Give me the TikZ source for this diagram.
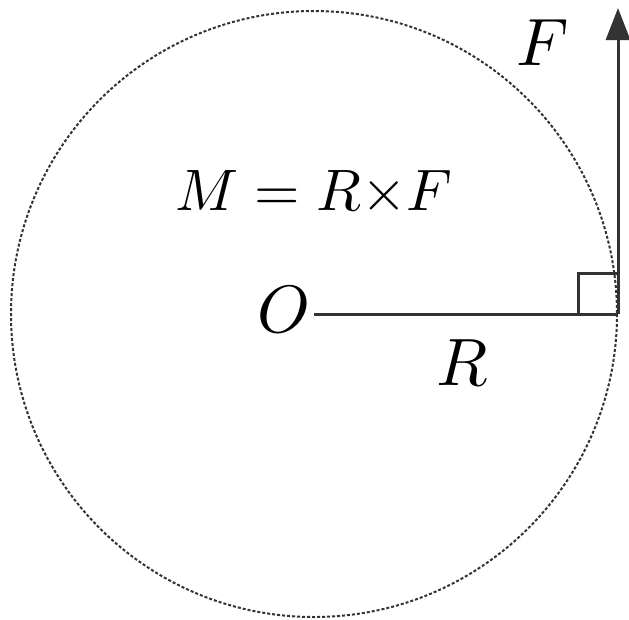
\documentclass[tikz,border=0pt]{standalone}
\usetikzlibrary{arrows.meta}
\begin{document}
\begin{tikzpicture}[x=1pt,y=-1pt,
  lbl/.style={inner sep=0pt,scale=6.7},
  stroke/.style={line width=3pt,draw=black!80},
  circ/.style={line width=2pt,draw=black!80,dash pattern=on 3pt off 2pt}]
\useasboundingbox (0,0) rectangle (629,619);
\coordinate (O) at (314,314);
\coordinate (A) at (618,314);
\coordinate (T) at (618,8);
\coordinate (S1) at (578,314);
\coordinate (S2) at (578,273);
\coordinate (S3) at (618,273);
\draw[circ] (O) circle[radius=303];
\draw[stroke] (O) -- (A);
\draw[stroke,-{Triangle[width=24pt,length=32pt]}] (A) -- (T);
\draw[line width=3pt,draw=black!80] (S1) -- (S2) -- (S3);
\node[lbl] (lo) at (284,310) {$O$};
\node[lbl] (lr) at (462,363) {$R$};
\node[lbl] (lf) at (543,43) {$F$};
\node[inner sep=0pt,scale=5.85] (eq) at (314,193) {$M = R{\times}F$};
\end{tikzpicture}
\end{document}
